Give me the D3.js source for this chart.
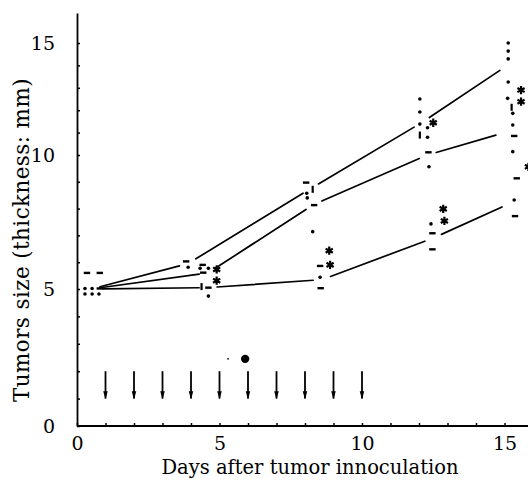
<!DOCTYPE html>
<html>
<head>
<meta charset="utf-8">
<script src="https://cdn.jsdelivr.net/npm/d3@7"></script>
<style>
  html, body { margin: 0; padding: 0; background: #fff; }
  svg { display: block; }
  text { font-family: "DejaVu Serif", "Liberation Serif", serif; fill: #000; }
</style>
</head>
<body>
<svg id="chart" width="528" height="480"></svg>
<script>
// Mean tumour thickness per group (day, mm)
const topDays    = [0.5, 3.9, 8.2, 12.1, 15.1];
const topMeans   = [5.0, 5.95, 8.75, 11.45, 14.0];
const midDays    = [0.5, 4.6, 8.3, 12.3, 15.0];
const midMeans   = [5.0, 5.6, 8.15, 10.0, 11.0];
const lowDays    = [0.6, 4.6, 8.6, 12.5, 15.2];
const lowMeans   = [5.0, 5.05, 5.35, 6.9, 8.2];

// Individual animals: [day, thickness]
const dotPoints = [
  [0.28, 5.02], [0.53, 5.02], [0.28, 4.82], [0.53, 4.82], [0.77, 4.82],
  [3.9, 5.81], [4.32, 5.77], [4.61, 5.77], [4.61, 4.74],
  [8.06, 8.57], [8.08, 8.4], [8.27, 7.14], [8.53, 5.44],
  [12.03, 12.5], [12.03, 11.92], [12.03, 11.38], [12.3, 11.22], [12.3, 10.79],
  [12.35, 9.56], [12.42, 7.43],
  [15.13, 15.0], [15.13, 14.64], [15.13, 14.29], [15.13, 13.26], [15.11, 12.53],
  [15.29, 11.86], [15.29, 11.34], [15.29, 10.15], [15.34, 8.32]
];
const dashPoints = [
  [0.35, 5.6], [0.8, 5.6], [0.8, 5.02],
  [3.83, 6.03], [4.41, 5.9], [4.43, 5.61], [4.61, 5.05],
  [8.04, 8.97], [8.32, 8.13], [8.53, 5.86], [8.55, 5.03],
  [12.33, 10.12], [12.47, 7.08], [12.47, 6.48],
  [15.34, 10.85], [15.43, 9.13], [15.37, 7.72]
];
const barPoints = [
  [4.37, 5.09], [8.27, 8.72], [12.03, 10.89], [15.25, 12.13]
];
const starPoints = [
  [4.9, 5.73], [4.9, 5.31],
  [8.85, 6.43], [8.88, 5.9],
  [12.5, 11.44], [12.85, 7.99], [12.89, 7.54],
  [15.58, 12.9], [15.58, 12.38], [15.84, 9.56]
];
const bigDots = [[5.9, 2.45, 4.2], [5.3, 2.45, 0.9]];

// Treatment days (arrows from 2 down to 1 mm)
const treatDays = [1, 2, 3, 4, 5, 6, 7, 8, 9, 10];
const arrowFrom = 2.0, arrowTo = 1.0;

const xTickLabels = [0, 5, 10, 15];
const yTickLabels = [0, 5, 10, 15];

const svg = d3.select("#chart");

const x = d3.scaleLinear().domain([0, 16]).range([77, 77 + 28.5 * 16]);
const y = d3.scaleLinear().domain([0, 5, 10, 16.34]).range([426, 289, 155, 13]);

// Axes
const xAxis = d3.axisBottom(x)
  .tickValues(d3.range(0, 16))
  .tickSize(-3).tickSizeOuter(0).tickPadding(11)
  .tickFormat(d => xTickLabels.includes(d) ? d : "");
const gx = svg.append("g").attr("transform", `translate(0,${y(0)})`).call(xAxis);
gx.select(".domain").attr("stroke-width", 1.8).attr("d", `M${x(0)},0H528`);
gx.selectAll(".tick line").attr("stroke-width", 1.5);
gx.selectAll(".tick text").attr("font-size", 19).attr("font-family", "DejaVu Serif");

const yAxis = d3.axisLeft(y)
  .tickValues(d3.range(0, 16))
  .tickSize(-3).tickSizeOuter(0).tickPadding(22)
  .tickFormat(d => yTickLabels.includes(d) ? d : "");
const gy = svg.append("g").attr("transform", `translate(${x(0)},0)`).call(yAxis);
gy.select(".domain").attr("stroke-width", 1.8);
gy.selectAll(".tick line").attr("stroke-width", 1.5);
gy.selectAll(".tick text").attr("font-size", 19).attr("font-family", "DejaVu Serif");

// Axis titles
svg.append("text")
  .attr("x", 310).attr("y", 474)
  .attr("text-anchor", "middle").attr("font-size", 19.5)
  .text("Days after tumor innoculation");
svg.append("text")
  .attr("transform", `translate(29,240) rotate(-90)`)
  .attr("text-anchor", "middle").attr("font-size", 21.5)
  .attr("letter-spacing", 0.4)
  .text("Tumors size (thickness: mm)");

// Mean lines, drawn as segments that stop short of each time point
const gap = 9;
function drawSeries(days, means) {
  for (let i = 0; i < days.length - 1; i++) {
    const x1 = x(days[i]), y1 = y(means[i]);
    const x2 = x(days[i + 1]), y2 = y(means[i + 1]);
    const len = Math.hypot(x2 - x1, y2 - y1);
    const ux = (x2 - x1) / len, uy = (y2 - y1) / len;
    svg.append("line")
      .attr("x1", x1 + ux * gap).attr("y1", y1 + uy * gap)
      .attr("x2", x2 - ux * gap).attr("y2", y2 - uy * gap)
      .attr("stroke", "#000").attr("stroke-width", 1.7)
      .attr("stroke-linecap", "round");
  }
}
drawSeries(topDays, topMeans);
drawSeries(midDays, midMeans);
drawSeries(lowDays, lowMeans);

// Individual values
svg.append("g").selectAll("circle").data(dotPoints).join("circle")
  .attr("cx", d => x(d[0])).attr("cy", d => y(d[1])).attr("r", 1.8).attr("fill", "#000");
svg.append("g").selectAll("rect").data(dashPoints).join("rect")
  .attr("x", d => x(d[0]) - 3.2).attr("y", d => y(d[1]) - 1.2)
  .attr("width", 6.4).attr("height", 2.4).attr("fill", "#000");
svg.append("g").selectAll("rect").data(barPoints).join("rect")
  .attr("x", d => x(d[0]) - 1.1).attr("y", d => y(d[1]) - 3.5)
  .attr("width", 2.2).attr("height", 7).attr("fill", "#000");
const star = d3.symbol().type(d3.symbolAsterisk).size(48);
svg.append("g").selectAll("path").data(starPoints).join("path")
  .attr("transform", d => `translate(${x(d[0])},${y(d[1])})`)
  .attr("d", star).attr("stroke", "#000").attr("stroke-width", 2.2).attr("fill", "none");
svg.append("g").selectAll("circle").data(bigDots).join("circle")
  .attr("cx", d => x(d[0])).attr("cy", d => y(d[1])).attr("r", d => d[2]).attr("fill", "#000");

// Treatment arrows
const defs = svg.append("defs");
defs.append("marker").attr("id", "head")
  .attr("viewBox", "0 0 10 10").attr("refX", 9).attr("refY", 5)
  .attr("markerWidth", 4.5).attr("markerHeight", 4.5).attr("markerUnits", "strokeWidth")
  .attr("orient", "auto")
  .append("path").attr("d", "M0,2.2L10,5L0,7.8Z").attr("fill", "#000");
svg.append("g").selectAll("line").data(treatDays).join("line")
  .attr("x1", d => x(d)).attr("x2", d => x(d))
  .attr("y1", y(arrowFrom)).attr("y2", y(arrowTo))
  .attr("stroke", "#000").attr("stroke-width", 1.8)
  .attr("marker-end", "url(#head)");
</script>
</body>
</html>
